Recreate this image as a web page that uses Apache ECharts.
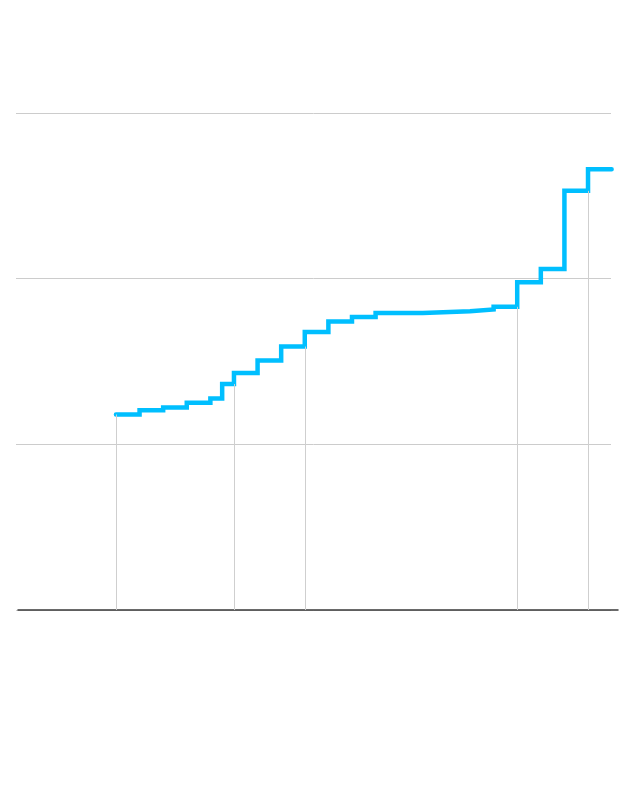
<!DOCTYPE html>
<html>
<head>
<meta charset="utf-8">
<script src="https://cdn.jsdelivr.net/npm/echarts@6/dist/echarts.min.js"></script>
<style>
  html, body { margin: 0; padding: 0; background: #fff; }
  #main { width: 640px; height: 812px; }
</style>
</head>
<body>
<div id="main"></div>
<script>
// step points (x as year)
var years = [2000, 2001, 2002, 2003, 2004, 2004.5, 2005, 2006, 2007, 2008, 2009, 2010, 2011, 2013, 2015, 2016, 2017, 2018, 2019, 2020, 2021];
var values = [118, 120.5, 122.3, 125.1, 127.7, 136.4, 143.1, 150.6, 159, 167.8, 174.1, 176.8, 179.3, 180.4, 181.4, 183, 197.9, 205.8, 253, 266.1, 266.1];
// years that get a drop line down to the baseline
var dropYears = [2000, 2005, 2008, 2017, 2020];
var yTicks = [0, 100, 200, 300];

var chart = echarts.init(document.getElementById("main"));

var lineData = [];
for (var i = 0; i < years.length; i++) {
    lineData.push([years[i], values[i]]);
}

// drop line reaches the level held before the step
var drops = [];
dropYears.forEach(function (y) {
    var idx = years.indexOf(y);
    var h = values[Math.max(idx - 1, 0)];
    drops.push([{ coord: [y, 0] }, { coord: [y, h] }]);
});

var xMin = 1995.85;
var xMax = 2021.27;

var option = {
    animation: false,
    backgroundColor: "#fff",
    grid: [
        { left: 16, right: 29, top: 113, bottom: 202 },
        { left: 18, right: 22, top: 113, bottom: 202 }
    ],
    xAxis: [
        { type: "value", gridIndex: 0, min: xMin, max: xMax, show: false },
        {
            type: "value",
            gridIndex: 1,
            min: xMin,
            max: xMax,
            axisLine: { show: true, lineStyle: { color: "#3a3a3a", width: 1.5 } },
            axisTick: { show: false },
            axisLabel: { show: false },
            splitLine: { show: false }
        }
    ],
    yAxis: [
        {
            type: "value",
            gridIndex: 0,
            min: yTicks[0],
            max: yTicks[yTicks.length - 1],
            interval: 100,
            axisLine: { show: false },
            axisTick: { show: false },
            axisLabel: { show: false },
            splitLine: { lineStyle: { color: "#cccccc", width: 1 } }
        },
        {
            type: "value",
            gridIndex: 1,
            min: yTicks[0],
            max: yTicks[yTicks.length - 1],
            interval: 100,
            axisLine: { show: false },
            axisTick: { show: false },
            axisLabel: { show: false },
            splitLine: { show: false }
        }
    ],
    series: [
        {
            type: "line",
            xAxisIndex: 1,
            yAxisIndex: 1,
            data: [],
            silent: true,
            z: 1,
            markLine: {
                silent: true,
                symbol: ["none", "none"],
                label: { show: false },
                lineStyle: { color: "#cfcfcf", width: 1, type: "solid" },
                data: drops
            }
        },
        {
            type: "line",
            xAxisIndex: 1,
            yAxisIndex: 1,
            step: "end",
            showSymbol: false,
            z: 3,
            lineStyle: { color: "#00bfff", width: 4.5, cap: "round", join: "miter" },
            data: lineData
        }
    ]
};

chart.setOption(option);
</script>
</body>
</html>
